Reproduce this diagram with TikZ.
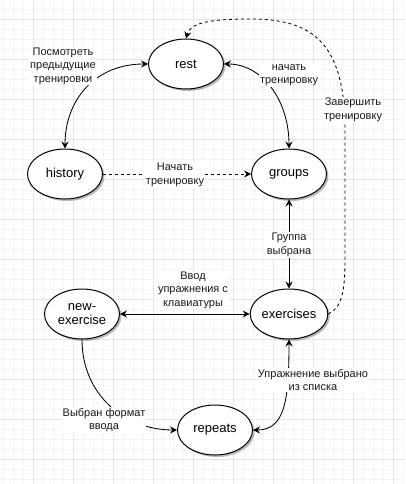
\documentclass[tikz,border=0pt]{standalone}
\usepackage{fontspec}
\setmainfont{Liberation Sans}
\usetikzlibrary{shapes.geometric,arrows.meta,shadows}
\begin{document}
\begin{tikzpicture}[x=1pt,y=-1pt,
  gridminor/.style={draw=black!4,line width=0.6pt},
  gridmajor/.style={draw=black!10,line width=0.7pt},
  state/.style={ellipse,draw=black,line width=1pt,fill=white,minimum width=75pt,minimum height=50pt,inner sep=0pt,
     font=\fontsize{13}{14}\selectfont,align=center,
     drop shadow={shadow xshift=2pt,shadow yshift=-2pt,fill=black!45,opacity=0.6}},
  conn/.style={line width=0.85pt,draw=black},
  tipa/.style={-{Stealth[length=7pt,width=7pt,inset=2.5pt]}},
  tipb/.style={{Stealth[length=7pt,width=7pt,inset=2.5pt]}-{Stealth[length=7pt,width=7pt,inset=2.5pt]}},
  dsh/.style={dash pattern=on 3pt off 3pt},
  lbl/.style={fill=white,inner sep=1pt,align=center,font=\fontsize{11}{13.5}\selectfont,text=black!90}
]
\useasboundingbox[fill=white] (0,0) rectangle (405,484);
% grid
\foreach \gx in {3,13,...,403} \draw[gridminor] (\gx,0) -- (\gx,484);
\foreach \gy in {9,19,...,483} \draw[gridminor] (0,\gy) -- (405,\gy);
\foreach \gx in {33,73,...,393} \draw[gridmajor] (\gx,0) -- (\gx,484);
\foreach \gy in {19,59,...,459} \draw[gridmajor] (0,\gy) -- (405,\gy);

% states
\node[state] (rest) at (186,64) {rest};
\node[state] (history) at (65,174) {history};
\node[state] (groups) at (289,174) {groups};
\node[state] (newex) at (82,314) {new-\\exercise};
\node[state] (exercises) at (289,314) {exercises};
\node[state] (repeats) at (215,430) {repeats};

% connectors
\draw[conn,tipb] (history.north) .. controls (65,100) and (95,64) .. (rest.west);
\draw[conn,tipb] (rest.east) .. controls (262,64) and (289,100) .. (groups.north);
\draw[conn,tipa,dsh] (history.east) -- (groups.west);
\draw[conn,tipa,dsh] (exercises.east) .. controls (342,308) and (345,290) .. (345,260)
   -- (345,130) .. controls (345,40) and (310,19) .. (250,19) .. controls (205,19) and (190,24) .. (rest.north);
\draw[conn,tipb] (groups.south) -- (exercises.north);
\draw[conn,tipb] (newex.east) -- (exercises.west);
\draw[conn,tipa] (newex.south) .. controls (82,395) and (125,430) .. (repeats.west);
\draw[conn,tipb] (exercises.south) .. controls (289,400) and (285,430) .. (repeats.east);

% labels
\node[lbl] (l1) at (63,66) {Посмотреть\\предыдущие\\тренировки};
\node[lbl] (l2) at (289,75) {начать\\тренировку};
\node[lbl] (l3) at (175,175) {Начать\\тренировку};
\node[lbl] (l4) at (353,110) {Завершить\\тренировку};
\node[lbl] (l5) at (289,245) {Группа\\выбрана};
\node[lbl] (l6) at (193,290) {Ввод\\упражнения с\\клавиатуры};
\node[lbl] (l7) at (104,420) {Выбран формат\\ввода};
\node[lbl] (l8) at (313,380) {Упражнение выбрано\\из списка};
\end{tikzpicture}
\end{document}
